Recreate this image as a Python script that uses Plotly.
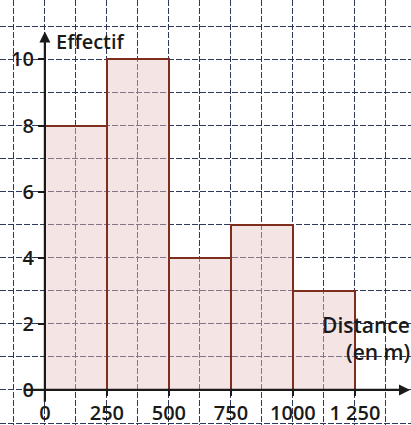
import plotly.graph_objects as go

# Data
bin_edges = [0, 250, 500, 750, 1000, 1250]
effectifs = [8, 10, 4, 5, 3]
x_tick_vals = [0, 250, 500, 750, 1000, 1250]
x_tick_text = ["0", "250", "500", "750", "1000", "1 250"]
y_tick_vals = [0, 2, 4, 6, 8, 10]
y_tick_text = ["0", "2", "4", "6", "8", "10"]

centers = [(a + b) / 2 for a, b in zip(bin_edges[:-1], bin_edges[1:])]
widths = [b - a for a, b in zip(bin_edges[:-1], bin_edges[1:])]

X_RANGE = [-181, 1476]
Y_RANGE = [-1.06, 11.8]
GRID = "#2f3858"
FONT = "Open Sans, Noto Sans, sans-serif"
INK = "#1a1a1a"

fig = go.Figure()
fig.add_trace(go.Bar(
    x=centers, y=effectifs, width=widths,
    marker=dict(color="rgba(232,196,196,0.45)",
                line=dict(color="#7e2e1e", width=2)),
    hoverinfo="skip",
))

xpos = (0 - Y_RANGE[0]) / (Y_RANGE[1] - Y_RANGE[0])
ypos = (0 - X_RANGE[0]) / (X_RANGE[1] - X_RANGE[0])

tfont = dict(size=20, family=FONT, color=INK, weight=600)

fig.update_layout(
    width=411, height=425,
    margin=dict(l=0, r=0, t=0, b=0),
    paper_bgcolor="white", plot_bgcolor="white",
    showlegend=False,
    font=dict(family=FONT, color=INK, size=19),
    xaxis=dict(
        range=X_RANGE, anchor="free", position=xpos,
        tickmode="array", tickvals=x_tick_vals, ticktext=x_tick_text,
        ticks="outside", ticklen=5, tickwidth=1.5, tickcolor=INK,
        tickfont=tfont,
        showgrid=True, gridcolor=GRID, gridwidth=1.4, griddash="6px,2px",
        minor=dict(dtick=125, tick0=0, showgrid=True, gridcolor=GRID,
                   gridwidth=1.4, griddash="6px,2px"),
        zeroline=False, showline=False, fixedrange=True,
    ),
    yaxis=dict(
        range=Y_RANGE, anchor="free", position=ypos,
        tickmode="array", tickvals=y_tick_vals, ticktext=y_tick_text,
        ticks="outside", ticklen=7, tickwidth=2, tickcolor=INK,
        tickfont=tfont,
        showgrid=True, gridcolor=GRID, gridwidth=1.4, griddash="6px,2px",
        minor=dict(dtick=1, tick0=0, showgrid=True, gridcolor=GRID,
                   gridwidth=1.4, griddash="6px,2px"),
        zeroline=False, showline=False, fixedrange=True,
    ),
    bargap=0,
)

# Axis arrows
fig.add_annotation(x=0, y=10.85, ax=0, ay=-0.4, xref="x", yref="y",
                   axref="x", ayref="y", text="", showarrow=True,
                   arrowhead=2, arrowsize=1, arrowwidth=2.2, arrowcolor=INK)
fig.add_annotation(x=1472, y=0, ax=-90, ay=0, xref="x", yref="y",
                   axref="x", ayref="y", text="", showarrow=True,
                   arrowhead=2, arrowsize=1, arrowwidth=2.2, arrowcolor=INK)

fig.add_annotation(x=35, y=10.55, xref="x", yref="y", text="Effectif",
                   showarrow=False, xanchor="left", yanchor="middle",
                   font=dict(size=20, family=FONT, color=INK, weight=600))
fig.add_annotation(x=1110, y=1.55, xref="x", yref="y",
                   text="Distance<br>\u2007\u2007(en m)",
                   showarrow=False, xanchor="left", yanchor="middle",
                   align="left",
                   font=dict(size=21, family=FONT, color=INK, weight=600))

fig.write_html("out.html", config={"displayModeBar": False},
               post_script="document.body.style.margin='0';")
